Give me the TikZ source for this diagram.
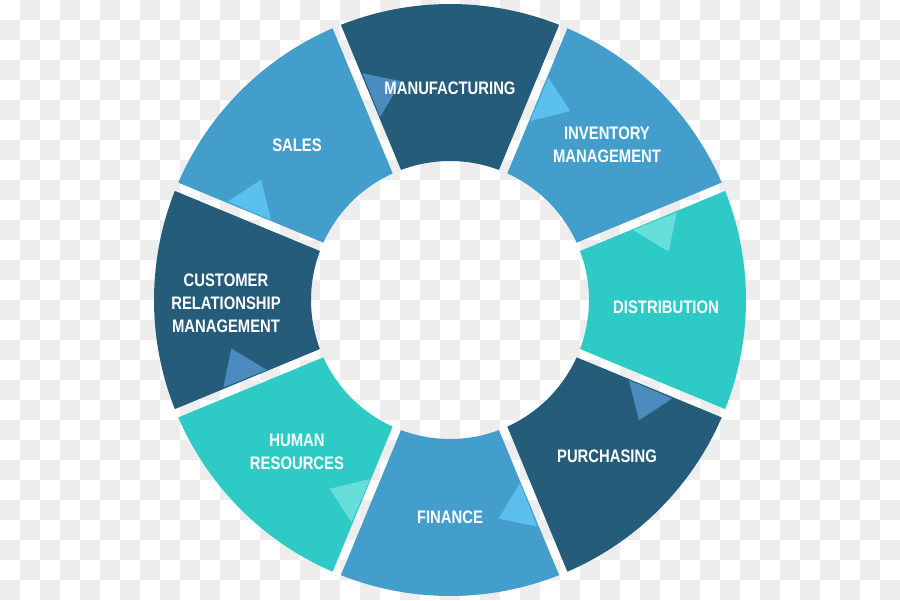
\documentclass[tikz,border=0pt]{standalone}
\usepackage{fontspec}
\setmainfont[FakeStretch=0.82]{Liberation Sans}
\definecolor{segdark}{HTML}{245C7A}
\definecolor{segblue}{HTML}{439ECC}
\definecolor{segteal}{HTML}{2ECAC6}
\definecolor{tipdark}{HTML}{4C8BBE}
\definecolor{tipblue}{HTML}{5BC0EE}
\definecolor{tipteal}{HTML}{67DEDA}
\definecolor{checkgray}{HTML}{EDEDED}
\tikzset{
  seglabel/.style={text=white, font=\bfseries\fontsize{10.3}{13.2}\selectfont, align=center, inner sep=0pt},
}
\begin{document}
\begin{tikzpicture}[x=0.02cm,y=0.02cm]
  \useasboundingbox (-450,-300) rectangle (450,300);
  % checkered background
  \fill[white] (-450,-300) rectangle (450,300);
  \foreach \i in {0,...,44}{
    \foreach \j in {0,...,29}{
      \pgfmathtruncatemacro\odd{mod(\i+\j,2)}
      \ifnum\odd=1 \fill[checkgray] (20*\i-450,280-20*\j) rectangle ++(20,20); \fi
    }
  }
  % ring segments, each with its small tip
  \foreach \a/\c/\t in {90/segdark/tipdark, 45/segblue/tipblue, 0/segteal/tipteal,
      -45/segdark/tipdark, -90/segblue/tipblue, -135/segteal/tipteal,
      180/segdark/tipdark, 135/segblue/tipblue}{
    \pgfmathsetmacro\oa{\a-22.5+0.87}
    \pgfmathsetmacro\ob{\a+22.5-0.87}
    \pgfmathsetmacro\ia{\a-22.5+1.86}
    \pgfmathsetmacro\ib{\a+22.5-1.86}
    \fill[\c] (\oa:296) arc[start angle=\oa, end angle=\ob, radius=296]
      -- (\ib:139) arc[start angle=\ib, end angle=\ia, radius=139] -- cycle;
    \pgfmathsetmacro\ta{\a+22.5-1.6}
    \pgfmathsetmacro\tb{\a+22.5-1.4}
    \pgfmathsetmacro\tc{\a+12.5}
    \fill[\t] (\ta:196) -- (\tb:243) -- (\tc:224) -- cycle;
  }
  % labels
  \node[seglabel] (manuf) at (0,212) {MANUFACTURING};
  \node[seglabel] (inventory) at (157,155) {INVENTORY\\MANAGEMENT};
  \node[seglabel] (distrib) at (216,-7) {DISTRIBUTION};
  \node[seglabel] (purchase) at (157,-156) {PURCHASING};
  \node[seglabel] (finance) at (0,-217) {FINANCE};
  \node[seglabel] (hr) at (-153,-152) {HUMAN\\RESOURCES};
  \node[seglabel] (crm) at (-224,-3) {CUSTOMER\\RELATIONSHIP\\MANAGEMENT};
  \node[seglabel] (sales) at (-153,155) {SALES};
\end{tikzpicture}
\end{document}
